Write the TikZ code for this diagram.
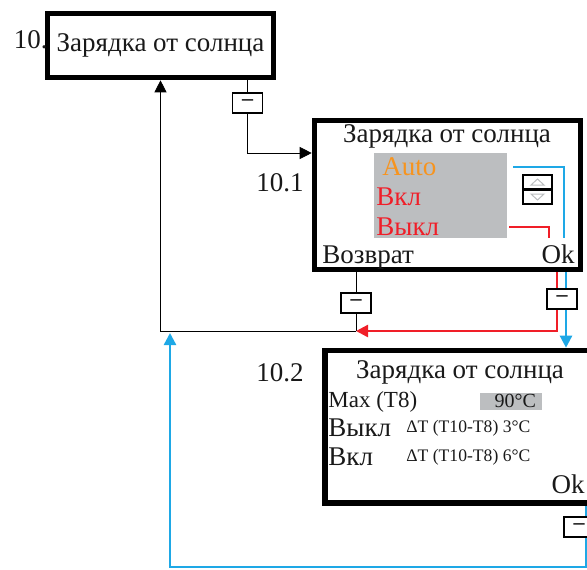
\documentclass[tikz,border=0pt]{standalone}
\usepackage{fontspec}
\setmainfont{Liberation Serif}
\usetikzlibrary{arrows.meta,backgrounds}
\definecolor{sunblue}{RGB}{30,168,230}
\definecolor{sunred}{RGB}{240,30,40}
\definecolor{sunorange}{RGB}{247,148,30}
\definecolor{screengray}{RGB}{188,190,192}
\tikzset{
  screen/.style={draw, line width=2.8pt, inner sep=0pt},
  keybox/.style={draw, fill=white, line width=0.9pt, minimum width=15pt, minimum height=10pt, inner sep=0pt, font=\fontsize{11}{11}\selectfont\bfseries},
  link/.style={line width=1pt},
  wire/.style={draw=#1, line width=1.2pt},
  item/.style={anchor=west, inner sep=1pt},
  minor/.style={font=\fontsize{8.8}{9}\selectfont},
}

\begin{document}
\begin{tikzpicture}[x=0.5pt, y=-0.5pt, >={Triangle[length=6pt,width=6pt]}, font=\fontsize{13.5}{16}\selectfont, text=black!90]
    \clip (0,0) rectangle (587,569);
    % 10
    \node[screen, minimum width=113pt, minimum height=32pt] (s10) at (160.5,45.5) {Зарядка от солнца};
    \node[anchor=east, inner sep=1pt] (l10) at (50,40) {10.};
    % 10.1
    \node[screen, minimum width=133pt, minimum height=74.5pt] (s101) at (447.5,195) {};
    \node (l101) at (280,183) {10.1};
    \node (t101) at (447,136) {Зарядка от солнца};
    \node[fill=screengray, minimum width=66.5pt, minimum height=42.5pt, inner sep=0pt] (menu) at (440.5,195.5) {};
    \node[item, text=sunorange] (auto) at (380,167) {Auto};
    \node[item, text=sunred] (on) at (374,197) {Вкл};
    \node[item, text=sunred] (off) at (374,227) {Выкл};
    \draw[line width=1pt] (523,175) rectangle (552,204);
    \draw[line width=1.5pt] (523,189.5) -- (552,189.5);
    \draw[screengray, line width=0.5pt] (531,185) -- (537.5,179) -- (544,185) -- cycle;
    \draw[screengray, line width=0.5pt] (531,194) -- (537.5,200) -- (544,194) -- cycle;
    \node[anchor=base west, inner sep=1pt] (back) at (320,263) {Возврат};
    \node[anchor=base east, inner sep=1pt] (ok1) at (577,263) {Ok};
    \coordinate (redend) at (549,238);
    \coordinate (blueend) at (564,238);
    % 10.2
    \node[screen, minimum width=136pt, minimum height=76.25pt] (s102) at (460.75,426.75) {};
    \node (l102) at (280,373) {10.2};
    \node (t102) at (460,372) {Зарядка от солнца};
    \node[item, font=\fontsize{11.5}{12}\selectfont] (max) at (326,402) {Max (T8)};
    \node[fill=screengray, minimum width=31pt, minimum height=8.5pt, inner sep=0pt] (val) at (511,401) {};
    \node[anchor=east, inner sep=3pt, font=\fontsize{10}{10}\selectfont] (valtxt) at (val.east) {90°C};
    \node[item] (off2) at (326,428) {Выкл};
    \node[item, minor] (doff) at (404,428) {ΔT (T10-T8) 3°C};
    \node[item] (on2) at (326,457) {Вкл};
    \node[item, minor] (don) at (404,457) {ΔT (T10-T8) 6°C};
    \node[anchor=base east, inner sep=1pt] (ok2) at (587,493) {Ok};
    % keys
    \node[keybox] (b1) at (247.5,103) {–};
    \node[keybox] (b2) at (356,303) {–};
    \node[keybox] (b3) at (562,299) {–};
    \node[keybox] (b4) at (579,527) {–};
    \coordinate (j1) at (356,331);
    \coordinate (j2) at (170,333);
    \coordinate (c2) at (170,567);
    % connectors
    \begin{scope}[on background layer, link]
        \draw (s10.south -| b1) -- (b1);
        \draw[->] (b1) |- ([yshift=21pt]s101.west);
        \draw (s101.south -| b2) -- (b2) -- (j1);
        \draw[->] (j1) -| (s10.south);
        \draw[wire=sunred] ([xshift=1pt]menu.east |- off) -| (redend);
        \draw[wire=sunblue] ([xshift=3pt]menu.east |- auto) -| (blueend);
        \draw[wire=sunred, ->] ([xshift=-2.5pt]s101.south -| b3) |- (j1);
        \draw[wire=sunblue, ->] ([xshift=2pt]s101.south -| b3) -- ([xshift=2pt]s102.north -| b3);
        \draw[wire=sunblue, ->] ([xshift=3.5pt]s102.south -| b4) |- (c2) -- (j2);
    \end{scope}
\end{tikzpicture}
\end{document}
